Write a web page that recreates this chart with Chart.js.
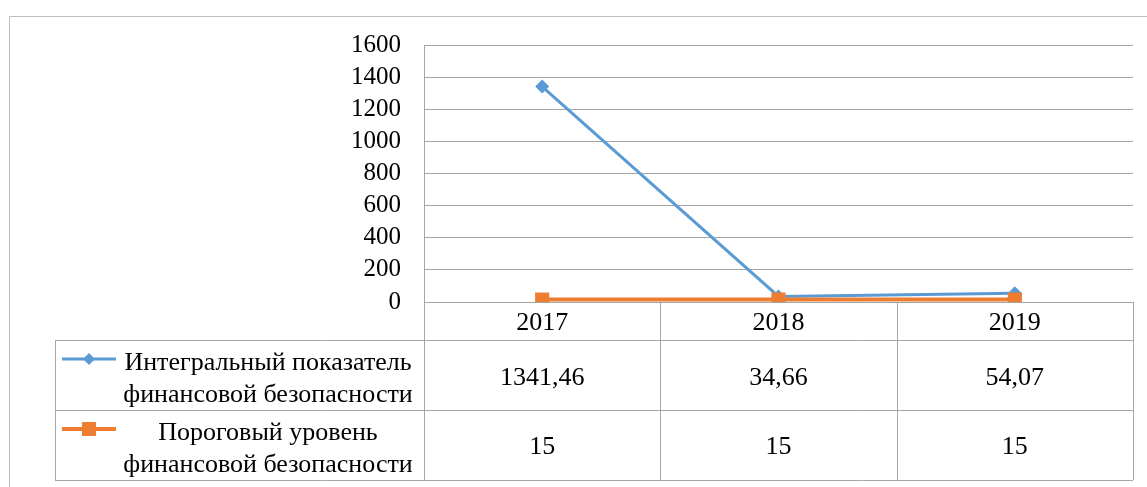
<!DOCTYPE html>
<html>
<head>
<meta charset="utf-8">
<title>Финансовая безопасность</title>
<script src="https://cdn.jsdelivr.net/npm/chart.js@4/dist/chart.umd.min.js"></script>
<style>
  html, body { margin: 0; padding: 0; background: #fff; }
  #wrap { width: 1147px; height: 487px; }
</style>
</head>
<body>
<div id="wrap"><canvas id="chart" width="1147" height="487"></canvas></div>
<script>
// data
var years = ["2017", "2018", "2019"];
var integral = [1341.46, 34.66, 54.07];
var threshold = [15, 15, 15];
var integralText = ["1341,46", "34,66", "54,07"];
var thresholdText = ["15", "15", "15"];
var seriesNames = [
  ["Интегральный показатель", "финансовой безопасности"],
  ["Пороговый уровень", "финансовой безопасности"]
];
var yTicks = { min: 0, max: 1600, step: 200 };

var BLUE = "#5B9BD5";
var ORANGE = "#ED7D31";
var GRID = "#A6A6A6";
var FAMILY = '"Liberation Serif", "Times New Roman", serif';
var TABLE_FONT = "26px " + FAMILY;

// draws the data table under the plot + outer frame
var tablePlugin = {
  id: "dataTable",
  beforeDraw: function(chart) {
    var c = chart.ctx;
    c.save();
    c.strokeStyle = "#BFBFBF";
    c.lineWidth = 1;
    c.beginPath();
    c.moveTo(9.5, 487);
    c.lineTo(9.5, 16.5);
    c.lineTo(1147, 16.5);
    c.stroke();
    c.restore();
  },
  afterDraw: function(chart) {
    var c = chart.ctx;
    var area = chart.chartArea;
    var x = chart.scales.x;
    var left = area.left, right = area.right;
    var axisY = area.bottom;
    var row0 = 340, row1 = 410, row2 = 480;
    var legLeft = 55;
    var colW = (right - left) / years.length;

    c.save();
    c.strokeStyle = GRID;
    c.lineWidth = 1;
    c.beginPath();
    c.moveTo(legLeft, row0 + 0.5); c.lineTo(right, row0 + 0.5);
    c.moveTo(legLeft, row1 + 0.5); c.lineTo(right, row1 + 0.5);
    c.moveTo(legLeft, row2 + 0.5); c.lineTo(right, row2 + 0.5);
    c.moveTo(legLeft + 0.5, row0); c.lineTo(legLeft + 0.5, row2);
    c.moveTo(left + 0.5, axisY); c.lineTo(left + 0.5, row2);
    for (var i = 1; i <= years.length; i++) {
      var xx = Math.round(left + colW * i) + 0.5;
      c.moveTo(xx, axisY); c.lineTo(xx, row2);
    }
    c.stroke();

    c.fillStyle = "#000";
    c.font = TABLE_FONT;
    c.textAlign = "center";
    c.textBaseline = "alphabetic";
    for (var j = 0; j < years.length; j++) {
      var px = x.getPixelForValue(j);
      c.fillText(years[j], px, 330);
      c.fillText(integralText[j], px, 385);
      c.fillText(thresholdText[j], px, 454);
    }

    var tx = 268;
    c.fillText(seriesNames[0][0], tx, 370);
    c.fillText(seriesNames[0][1], tx, 402);
    c.fillText(seriesNames[1][0], tx, 440);
    c.fillText(seriesNames[1][1], tx, 472);

    // legend keys
    c.lineWidth = 3;
    c.strokeStyle = BLUE;
    c.beginPath(); c.moveTo(62, 359); c.lineTo(116, 359); c.stroke();
    c.fillStyle = BLUE;
    c.beginPath();
    c.moveTo(89, 353); c.lineTo(95, 359); c.lineTo(89, 365); c.lineTo(83, 359);
    c.closePath(); c.fill();

    c.lineWidth = 4;
    c.strokeStyle = ORANGE;
    c.beginPath(); c.moveTo(62, 429); c.lineTo(116, 429); c.stroke();
    c.fillStyle = ORANGE;
    c.fillRect(82, 422, 14, 14);
    c.restore();
  }
};

var ctx = document.getElementById("chart").getContext("2d");
new Chart(ctx, {
  type: "line",
  data: {
    labels: years,
    datasets: [{
      label: seriesNames[0].join(" "),
      data: integral,
      borderColor: BLUE,
      backgroundColor: BLUE,
      borderWidth: 3,
      pointStyle: "rectRot",
      pointRadius: 7,
      pointBorderWidth: 0,
      order: 1
    }, {
      label: seriesNames[1].join(" "),
      data: threshold,
      borderColor: ORANGE,
      backgroundColor: ORANGE,
      borderWidth: 4,
      pointStyle: "rect",
      pointRadius: 10,
      pointBorderWidth: 0,
      order: 0
    }]
  },
  options: {
    responsive: false,
    animation: false,
    layout: { padding: { left: 0, top: 45, right: 14, bottom: 185 } },
    plugins: { legend: { display: false }, tooltip: { enabled: false } },
    scales: {
      x: { display: false, offset: true },
      y: {
        min: yTicks.min,
        max: yTicks.max,
        afterFit: function(scale) { scale.width = 424; },
        border: { display: true, color: GRID, width: 1 },
        grid: { color: GRID, drawTicks: false, lineWidth: 1 },
        ticks: {
          stepSize: yTicks.step,
          autoSkip: false,
          padding: 23,
          color: "#000",
          font: { family: FAMILY, size: 25 },
          callback: function(v) { return String(v); }
        }
      }
    }
  },
  plugins: [tablePlugin]
});
</script>
</body>
</html>
